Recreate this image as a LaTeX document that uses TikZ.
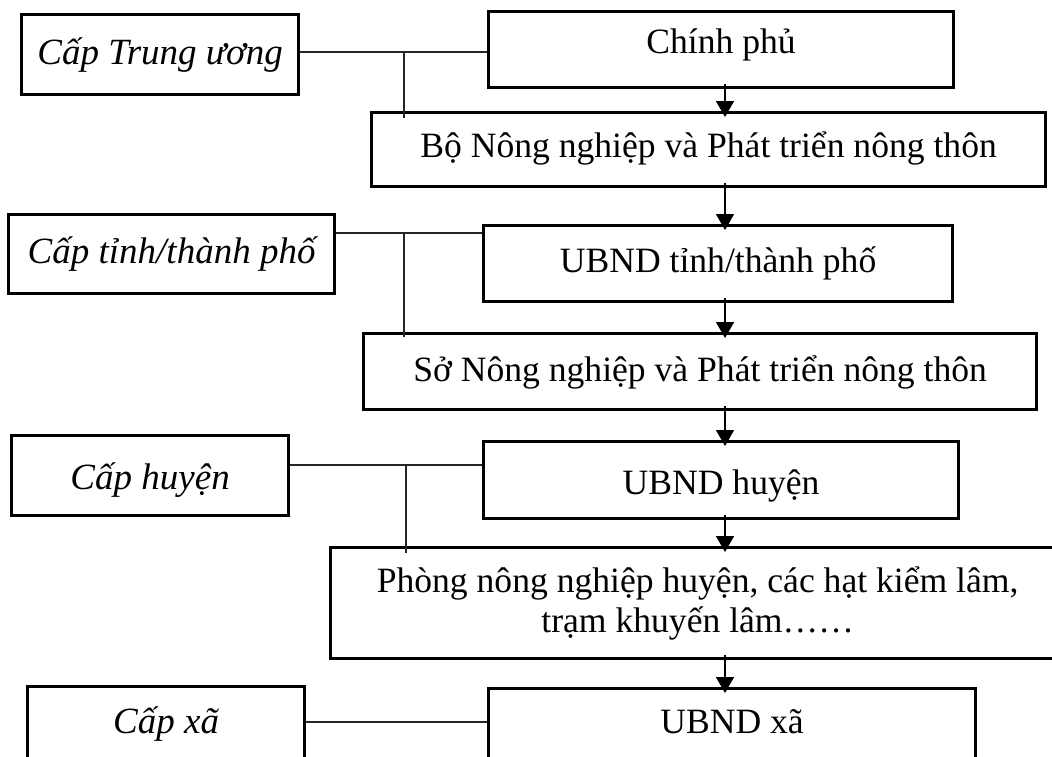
\documentclass[tikz,border=0pt]{standalone}
\usepackage{fontspec}
\setmainfont{Liberation Serif}
\usetikzlibrary{arrows.meta}
\begin{document}
\begin{tikzpicture}[x=0.5pt,y=-0.5pt,
  box/.style={draw, line width=1.6pt, inner xsep=0pt, inner ysep=0pt,
    anchor=north west, font=\fontsize{17.8pt}{20pt}\selectfont},
  lvl/.style={box, font=\fontsize{18.5pt}{20pt}\selectfont\itshape},
  link/.style={line width=0.55pt, draw=black!85},
  flow/.style={line width=0.8pt, -{Triangle[length=8pt,width=9pt]},
    shorten <=-2.5pt, shorten >=-3pt}]
\useasboundingbox (0,0) rectangle (1052,756);
\clip (0,0) rectangle (1052,756);

% level labels (left column)
\node[lvl, minimum width=138.5pt, text height=25pt, text depth=15pt] (L1) at (20,13) {Cấp Trung ương};
\node[lvl, minimum width=163pt, text height=24.5pt, text depth=15pt] (L2) at (7,213) {Cấp tỉnh/thành phố};
\node[lvl, minimum width=138.5pt, text height=27pt, text depth=13pt] (L3) at (10,434) {Cấp huyện};
\node[lvl, minimum width=138.5pt, text height=23.5pt, text depth=16.5pt] (L4) at (26,685) {Cấp xã};

% agencies (right column)
\node[box, minimum width=232.5pt, text height=21pt, text depth=17pt] (C1) at (487,10) {Chính phủ};
\node[box, minimum width=337pt, text height=22.5pt, text depth=14.5pt] (C2) at (370,111) {Bộ Nông nghiệp và Phát triển nông thôn};
\node[box, minimum width=234.5pt, text height=23.5pt, text depth=14.5pt] (C3) at (482,224) {UBND tỉnh/thành phố};
\node[box, minimum width=336.5pt, text height=24pt, text depth=14pt] (C4) at (362,332) {Sở Nông nghiệp và Phát triển nông thôn};
\node[box, minimum width=237.5pt, text height=26.5pt, text depth=12pt] (C5) at (482,440) {UBND huyện};
\node[box, minimum width=367pt, text height=22.5pt, text depth=33pt] (C6) at (329,546)
  {\begin{tabular}[t]{@{}c@{}}Phòng nông nghiệp huyện, các hạt kiểm lâm,\\ trạm khuyến lâm……\end{tabular}};
\node[box, minimum width=243.5pt, text height=22.5pt, text depth=17.5pt] (C7) at (487,687) {UBND xã};

% junctions of the level links
\coordinate (j1) at (404,52);
\coordinate (j2) at (404,233);
\coordinate (j3) at (406,465);
\coordinate (j4) at (400,722);
\coordinate (ax) at (725,0);

\draw[link] (L1.east |- j1) -- (C1.west |- j1);
\draw[link, shorten >=-3.5pt] (j1) -- (j1 |- C2.north);
\draw[link] (L2.east |- j2) -- (C3.west |- j2);
\draw[link, shorten >=-2.5pt] (j2) -- (j2 |- C4.north);
\draw[link] (L3.east |- j3) -- (C5.west |- j3);
\draw[link, shorten >=-3.5pt] (j3) -- (j3 |- C6.north);
\draw[link] (L4.east |- j4) -- (C7.west |- j4);

% chain of command
\draw[flow] (ax |- C1.south) -- (ax |- C2.north);
\draw[flow] (ax |- C2.south) -- (ax |- C3.north);
\draw[flow] (ax |- C3.south) -- (ax |- C4.north);
\draw[flow] (ax |- C4.south) -- (ax |- C5.north);
\draw[flow] (ax |- C5.south) -- (ax |- C6.north);
\draw[flow] (ax |- C6.south) -- (ax |- C7.north);
\end{tikzpicture}
\end{document}
